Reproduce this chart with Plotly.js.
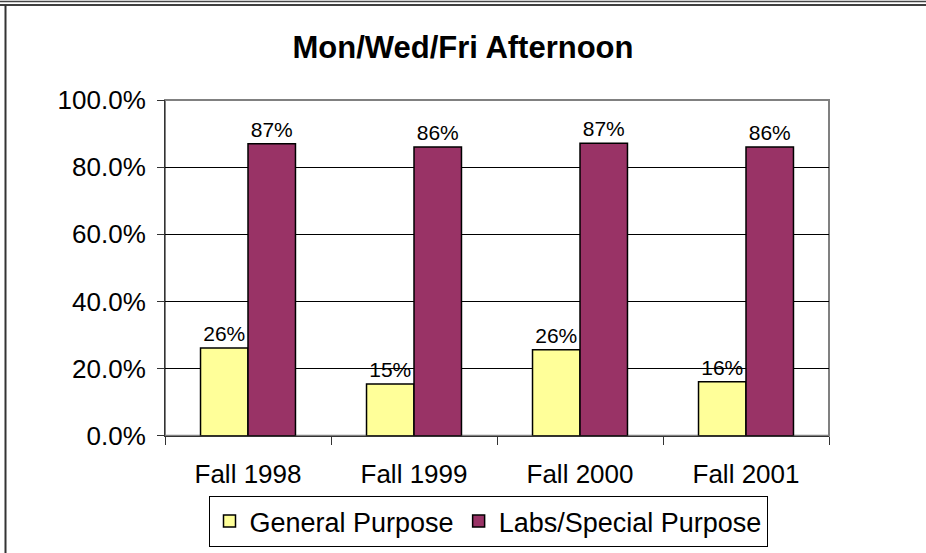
<!DOCTYPE html>
<html>
<head>
<meta charset="utf-8">
<script src="https://cdn.plot.ly/plotly-3.0.1.min.js"></script>
<style>html,body{margin:0;padding:0;background:#fff;}#chart{width:926px;height:553px;}</style>
</head>
<body>
<div id="chart"></div>
<script>
const categories = ["Fall 1998", "Fall 1999", "Fall 2000", "Fall 2001"];
const generalPurpose = [0.261, 0.154, 0.256, 0.161];
const labsSpecial = [0.870, 0.860, 0.871, 0.860];
const seriesNames = ["General Purpose", "Labs/Special Purpose"];
const yTicks = [0, 0.2, 0.4, 0.6, 0.8, 1.0];

const W = 926, H = 553;
const px = v => v / W, py = v => 1 - v / H;
const FONT = '"Liberation Sans", Arial, sans-serif';

const traces = [
  {type: 'bar', name: seriesNames[0], x: categories, y: generalPurpose,
   marker: {color: '#FFFF99', line: {color: '#000', width: 1.5}},
   text: generalPurpose.map(v => Math.round(v * 100) + '%'), textposition: 'outside',
   textfont: {family: FONT, size: 21, color: '#000'}, cliponaxis: false, hoverinfo: 'none'},
  {type: 'bar', name: seriesNames[1], x: categories, y: labsSpecial,
   marker: {color: '#993366', line: {color: '#000', width: 1.5}},
   text: labsSpecial.map(v => Math.round(v * 100) + '%'), textposition: 'outside',
   textfont: {family: FONT, size: 21, color: '#000'}, cliponaxis: false, hoverinfo: 'none'}
];

const layout = {
  width: W, height: H,
  margin: {l: 0, r: 0, t: 0, b: 0},
  paper_bgcolor: '#fff', plot_bgcolor: '#fff',
  font: {family: FONT, color: '#000'},
  title: {text: '<b>Mon/Wed/Fri Afternoon</b>', font: {family: FONT, size: 31, color: '#000'}, x: 0.5, xanchor: 'center', y: py(47), yanchor: 'middle'},
  barmode: 'group', bargap: 0.428, bargroupgap: 0,
  showlegend: true,
  legend: {orientation: 'h', x: px(488), xanchor: 'center', y: py(496), yanchor: 'top',
           bordercolor: '#000', borderwidth: 1, font: {family: FONT, size: 27}, traceorder: 'normal',
           itemwidth: 30, tracegroupgap: 0},
  xaxis: {domain: [px(165), px(829)], type: 'category', tickson: 'boundaries',
          ticks: 'outside', ticklen: 8, tickcolor: '#333', showline: true, linecolor: '#333', linewidth: 1,
          showgrid: false, tickfont: {family: FONT, size: 26}, ticklabelstandoff: 15, fixedrange: true},
  yaxis: {domain: [py(435.7), py(100)], range: [0, 1], tickvals: yTicks, tickformat: '.1%',
          ticks: 'outside', ticklen: 7, tickcolor: '#333', showline: true, linecolor: '#333', linewidth: 1,
          showgrid: true, gridcolor: '#000', gridwidth: 1, zeroline: false,
          tickfont: {family: FONT, size: 26}, ticklabelstandoff: 6, fixedrange: true},
  shapes: [
    {type: 'rect', xref: 'x domain', yref: 'y domain', x0: 0, x1: 1, y0: 0, y1: 1,
     line: {color: '#808080', width: 2}, layer: 'below'},
    {type: 'line', xref: 'paper', yref: 'paper', x0: 0, x1: 1, y0: py(1.5), y1: py(1.5), line: {color: '#444', width: 1.5}},
    {type: 'line', xref: 'paper', yref: 'paper', x0: 0, x1: 1, y0: py(5), y1: py(5), line: {color: '#000', width: 1.5}},
    {type: 'line', xref: 'paper', yref: 'paper', x0: px(5.5), x1: px(5.5), y0: 0, y1: py(5), line: {color: '#333', width: 2}}
  ]
};

Plotly.newPlot('chart', traces, layout, {displayModeBar: false, staticPlot: true});
</script>
</body>
</html>
